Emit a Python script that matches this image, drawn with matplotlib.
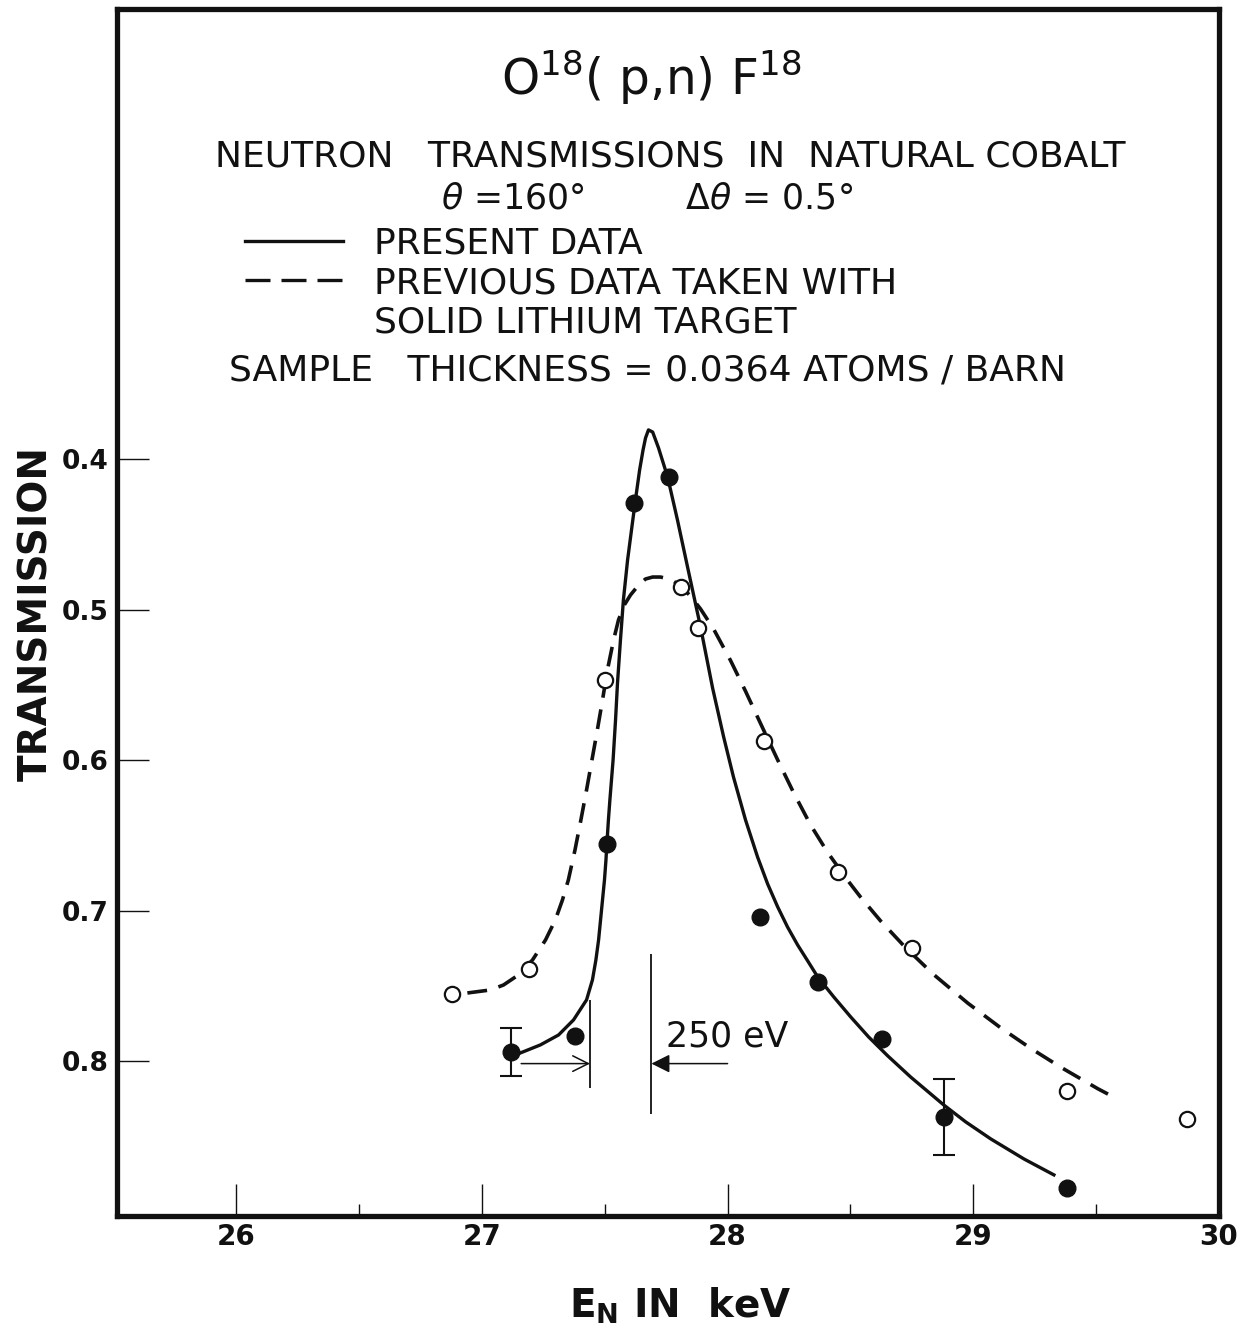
import matplotlib
matplotlib.use("Agg")
import matplotlib.pyplot as plt
from matplotlib.lines import Line2D

plt.rcParams['font.family'] = ['DejaVu Sans']
plt.rcParams['mathtext.fontset'] = 'dejavusans'
plt.rcParams['mathtext.default'] = 'regular'

# measured points, E_N in keV vs transmission
en_present = [27.12, 27.38, 27.51, 27.62, 27.76, 28.13, 28.37, 28.63, 28.88, 29.38]
tr_present = [0.794, 0.783, 0.656, 0.429, 0.412, 0.704, 0.747, 0.785, 0.837, 0.884]

en_previous = [26.88, 27.19, 27.50, 27.81, 27.88, 28.15, 28.45, 28.75, 29.38, 29.87]
tr_previous = [0.755, 0.739, 0.547, 0.485, 0.512, 0.587, 0.674, 0.725, 0.820, 0.838]

# error bars on two of the present points
err_en = [27.12, 28.88]
err_tr = [0.794, 0.837]
err_size = [0.016, 0.025]

# hand drawn curves
curve_present_en = [27.157, 27.238, 27.312, 27.373, 27.426, 27.450, 27.464, 27.475, 27.483,
                    27.491, 27.499, 27.505, 27.508, 27.515, 27.521, 27.534, 27.544, 27.552,
                    27.564, 27.576, 27.593, 27.609, 27.625, 27.642, 27.656, 27.666, 27.678,
                    27.695, 27.719, 27.756, 27.796, 27.837, 27.890, 27.939, 27.984, 28.024,
                    28.073, 28.122, 28.163, 28.204, 28.244, 28.285, 28.326, 28.367, 28.432,
                    28.501, 28.574, 28.652, 28.745, 28.880, 28.969, 29.071, 29.206, 29.328]
curve_present_tr = [0.7944, 0.7891, 0.7825, 0.7725, 0.7592, 0.7459, 0.7327, 0.7194, 0.7061,
                    0.6928, 0.6795, 0.6663, 0.6576, 0.6397, 0.6264, 0.5999, 0.5733, 0.5487,
                    0.5202, 0.4936, 0.4671, 0.4471, 0.4272, 0.4073, 0.3940, 0.3861, 0.3807,
                    0.3821, 0.3927, 0.4120, 0.4405, 0.4717, 0.5116, 0.5521, 0.5846, 0.6112,
                    0.6397, 0.6643, 0.6822, 0.6975, 0.7108, 0.7227, 0.7333, 0.7440, 0.7572,
                    0.7705, 0.7838, 0.7964, 0.8104, 0.8290, 0.8402, 0.8515, 0.8648, 0.8754]

curve_previous_en = [26.941, 27.035, 27.088, 27.149, 27.206, 27.259, 27.299, 27.328, 27.352,
                     27.379, 27.403, 27.426, 27.448, 27.470, 27.491, 27.511, 27.536, 27.556,
                     27.580, 27.605, 27.638, 27.666, 27.695, 27.727, 27.768, 27.809, 27.849,
                     27.890, 27.943, 28.012, 28.073, 28.134, 28.204, 28.269, 28.338, 28.407,
                     28.481, 28.542, 28.623, 28.725, 28.839, 28.978, 29.112, 29.234, 29.356,
                     29.507, 29.585]
curve_previous_tr = [0.7546, 0.7526, 0.7493, 0.7426, 0.7327, 0.7194, 0.7061, 0.6928, 0.6795,
                     0.6596, 0.6397, 0.6198, 0.5999, 0.5799, 0.5600, 0.5401, 0.5202, 0.5069,
                     0.4969, 0.4903, 0.4837, 0.4797, 0.4784, 0.4784, 0.4800, 0.4843, 0.4910,
                     0.4996, 0.5129, 0.5338, 0.5542, 0.5756, 0.5999, 0.6217, 0.6431, 0.6612,
                     0.6782, 0.6911, 0.7068, 0.7246, 0.7424, 0.7614, 0.7778, 0.7914, 0.8039,
                     0.8182, 0.8249]

# 250 eV resolution marker
mark_en = [27.44, 27.69]
mark_lo = [0.759, 0.729]
mark_hi = [0.818, 0.835]
arrow_tr = 0.8015
arrow_start = [27.16, 28.0]

xticks = [26, 27, 28, 29, 30]
xminor = [26.5, 27.5, 28.5, 29.5]
yticks = [0.4, 0.5, 0.6, 0.7, 0.8]
ytick_labels = ['0.4', '0.5', '0.6', '0.7', '0.8']

ink = '#111111'
dash = (0, (5.5, 3.3))

fig = plt.figure(figsize=(12.53, 13.32), dpi=100)
ax = fig.add_axes([117 / 1253, 1 - 1216 / 1332, 1102 / 1253, 1207 / 1332])

ax.plot(curve_present_en, curve_present_tr, color=ink, lw=2.4, solid_joinstyle='round')
ax.plot(curve_previous_en, curve_previous_tr, color=ink, lw=2.6, linestyle=dash)

ax.errorbar(err_en, err_tr, yerr=err_size, fmt='none', ecolor=ink, elinewidth=1.5,
            capsize=8, capthick=1.5, zorder=3)
ax.plot(en_present, tr_present, 'o', color=ink, markersize=12, zorder=4)
ax.plot(en_previous, tr_previous, 'o', mfc='white', mec=ink, mew=1.6, markersize=11, zorder=4)

ax.vlines(mark_en, mark_lo, mark_hi, color=ink, lw=1.3)
ax.annotate('', xy=(mark_en[0], arrow_tr), xytext=(arrow_start[0], arrow_tr),
            arrowprops=dict(arrowstyle='->', color=ink, lw=1.1, mutation_scale=28,
                            shrinkA=0, shrinkB=0))
ax.annotate('', xy=(mark_en[1], arrow_tr), xytext=(arrow_start[1], arrow_tr),
            arrowprops=dict(arrowstyle='-|>', color=ink, lw=1.1, mutation_scale=28,
                            shrinkA=0, shrinkB=0))
ax.text(27.75, 0.790, '250 eV', fontsize=25, color=ink, ha='left', va='baseline')

ax.set_xlim(25.515, 30.0)
ax.set_ylim(0.9027, 0.1012)

ax.set_xticks(xticks)
ax.set_xticks(xminor, minor=True)
ax.set_yticks(yticks)
ax.set_yticklabels(ytick_labels)
ax.tick_params(axis='x', which='major', direction='in', length=23, width=1.0,
               labelsize=20, pad=5, colors=ink)
ax.tick_params(axis='x', which='minor', direction='in', length=9, width=1.0, colors=ink)
ax.tick_params(axis='y', direction='in', length=23, width=1.0, labelsize=19, pad=6, colors=ink)
for lbl in ax.get_xticklabels() + ax.get_yticklabels():
    lbl.set_fontweight('bold')

for sp in ax.spines.values():
    sp.set_linewidth(3.8)
    sp.set_color(ink)

ax.set_ylabel('TRANSMISSION', fontsize=28, fontweight='bold', color=ink, va='center')
ax.yaxis.set_label_coords(-0.073, 0.499)
ax.set_xlabel(r'E$_\mathbf{N}$ IN  keV', fontsize=28, fontweight='bold', color=ink)
ax.xaxis.set_label_coords(0.511, -0.058)

# texts at the top of the frame
ax.text(0.4846, 0.9288, r'O$^{18}$( p,n) F$^{18}$', transform=ax.transAxes, fontsize=35,
        color=ink, ha='center', va='baseline')
ax.text(0.5018, 0.8691, 'NEUTRON   TRANSMISSIONS  IN  NATURAL COBALT', transform=ax.transAxes,
        fontsize=26, color=ink, ha='center', va='baseline')
ax.text(0.481, 0.8351, r'$\mathit{\theta}$ =160°         $\Delta\mathit{\theta}$ = 0.5°',
        transform=ax.transAxes, fontsize=25, color=ink, ha='center', va='baseline')
ax.text(0.481, 0.6926, 'SAMPLE   THICKNESS = 0.0364 ATOMS / BARN', transform=ax.transAxes,
        fontsize=26, color=ink, ha='center', va='baseline')

h_solid = Line2D([], [], color=ink, lw=2.4)
h_dash = Line2D([], [], color=ink, lw=2.4, linestyle=(0, (7.5, 3.3)))
h_blank = Line2D([], [], color='none')
ax.legend([h_solid, h_dash, h_blank],
          ['PRESENT DATA', 'PREVIOUS DATA TAKEN WITH', 'SOLID LITHIUM TARGET'],
          loc='upper left', bbox_to_anchor=(0.1162, 0.8200), frameon=False, fontsize=26,
          handlelength=2.7, handletextpad=0.88, labelspacing=0.16, borderpad=0,
          borderaxespad=0, labelcolor=ink)

fig.savefig('out.png', dpi=100, facecolor='white')
